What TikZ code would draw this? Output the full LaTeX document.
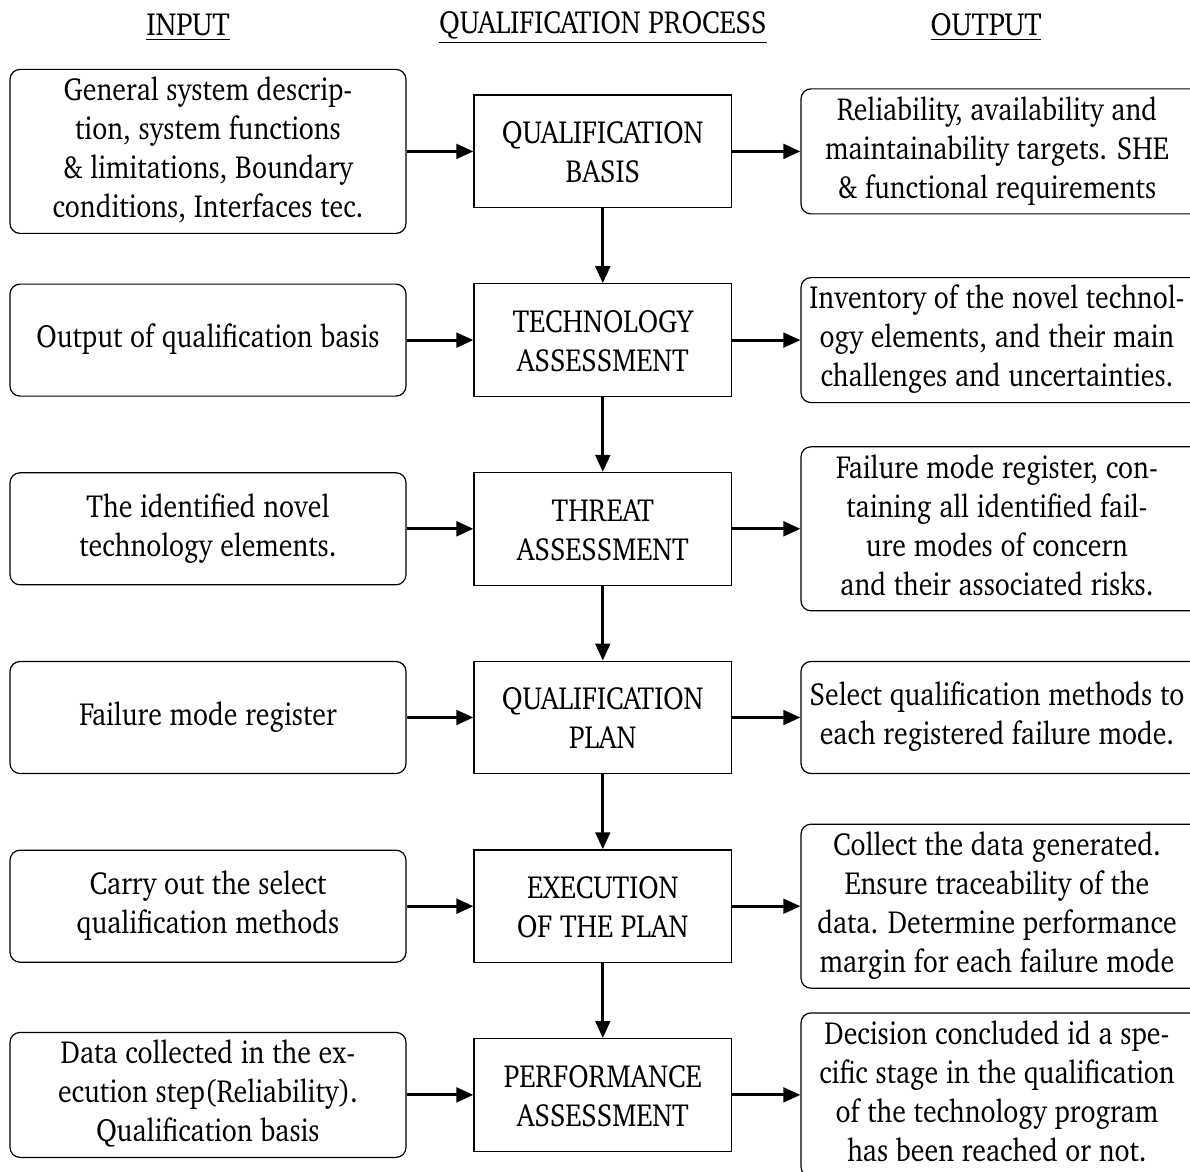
\documentclass[tikz,border=0pt]{standalone}
\usepackage[T1]{fontenc}
\usepackage{charter}
\usepackage{graphicx}
\usetikzlibrary{arrows.meta}
\newcommand\lw[1]{\scalebox{0.87}[1]{\begin{tabular}{@{}c@{}}#1\end{tabular}}}
\newcommand\cp[1]{\raisebox{-2pt}[\height][\depth]{\scalebox{0.868}[1]{\begin{tabular}{@{}c@{}}#1\end{tabular}}}}
\newcommand\hd[2]{\scalebox{#1}[1]{\underline{#2}}}
\begin{document}
\begin{tikzpicture}[x=0.5pt,y=-0.5pt, font=\fontsize{16}{19.5}\selectfont,
 side/.style={draw, line width=0.6pt, rounded corners=5pt, inner xsep=0pt, inner ysep=2pt, minimum height=56pt},
 inbox/.style={side, minimum width=198pt},
 outbox/.style={side, minimum width=202pt},
 proc/.style={draw, line width=0.6pt, minimum width=128.8pt, minimum height=56.3pt, inner sep=0pt},
 arr/.style={line width=1.5pt, -{Triangle[length=8.5pt,width=7.3pt]}},
 head/.style={anchor=base, inner sep=0pt}]
\useasboundingbox (0,0) rectangle (1190,1172);

% headers
\node[head] (hin) at (188,36) {\hd{0.91}{INPUT}};
\node[head] (hqp) at (603,34) {\hd{0.868}{QUALIFICATION PROCESS}};
\node[head] (hout) at (986,36) {\hd{0.9}{OUTPUT}};

% row 1
\node[inbox] (L1) at (208,151.4) {\lw{General system descrip-\\tion, system functions\\\& limitations, Boundary\\conditions, Interfaces tec.}};
\node[proc] (M1) at (602.8,151.4) {\cp{QUALIFICATION\\BASIS}};
\node[outbox] (R1) at (1003,151.4) {\lw{Reliability, availability and\\maintainability targets. SHE\\\& functional requirements}\hspace*{6pt}};

% row 2
\node[inbox] (L2) at (208,340.1) {\lw{Output of qualification basis}};
\node[proc] (M2) at (602.8,340.1) {\cp{TECHNOLOGY\\ASSESSMENT}};
\node[outbox] (R2) at (1003,340.1) {\lw{Inventory of the novel technol-\\ogy elements, and their main\\challenges and uncertainties.}\hspace*{6pt}};

% row 3
\node[inbox] (L3) at (208,528.8) {\lw{The identified novel\\technology elements.}};
\node[proc] (M3) at (602.8,528.8) {\cp{THREAT\\ASSESSMENT}};
\node[outbox] (R3) at (1003,528.8) {\lw{Failure mode register, con-\\taining all identified fail-\\ure modes of concern\\and their associated risks.}\hspace*{6pt}};

% row 4
\node[inbox] (L4) at (208,717.5) {\lw{Failure mode register}};
\node[proc] (M4) at (602.8,717.5) {\cp{QUALIFICATION\\PLAN}};
\node[outbox] (R4) at (1003,717.5) {\lw{Select qualification methods to\\each registered failure mode.}\hspace*{6pt}};

% row 5
\node[inbox] (L5) at (208,906.2) {\lw{Carry out the select\\qualification methods}};
\node[proc] (M5) at (602.8,906.2) {\cp{EXECUTION\\OF THE PLAN}};
\node[outbox] (R5) at (1003,906.2) {\lw{Collect the data generated.\\Ensure traceability of the\\data. Determine performance\\margin for each failure mode}\hspace*{6pt}};

% row 6
\node[inbox] (L6) at (208,1094.9) {\lw{Data collected in the ex-\\ecution step(Reliability).\\Qualification basis}};
\node[proc] (M6) at (602.8,1094.9) {\cp{PERFORMANCE\\ASSESSMENT}};
\node[outbox] (R6) at (1003,1094.9) {\lw{Decision concluded id a spe-\\cific stage in the qualification\\of the technology program\\has been reached or not.}\hspace*{6pt}};

% arrows
\foreach \i in {1,...,6}{
  \draw[arr] (L\i.east) -- (M\i.west);
  \draw[arr] (M\i.east) -- (R\i.west);
}
\foreach \i/\j in {1/2,2/3,3/4,4/5,5/6}{
  \draw[arr] (M\i.south) -- (M\j.north);
}
\end{tikzpicture}
\end{document}
